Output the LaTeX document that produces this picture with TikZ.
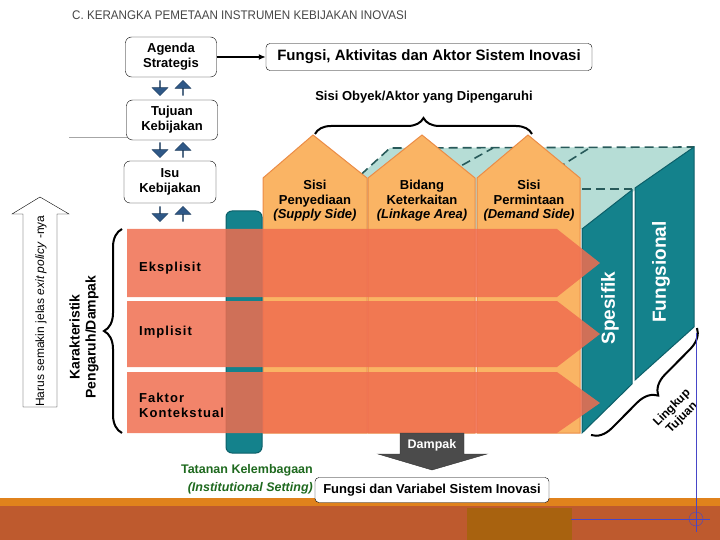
\documentclass[tikz,border=0pt]{standalone}
\usepackage{fontspec}
\setmainfont{Liberation Sans}
\newfontfamily\titlefont[FakeStretch=0.93]{Liberation Sans}
\newfontfamily\spacedfont[LetterSpace=8]{Liberation Sans}
\usetikzlibrary{positioning,shapes.arrows,decorations.pathreplacing,arrows.meta}

\definecolor{titlegray}{RGB}{70,70,70}
\definecolor{houseorange}{RGB}{250,180,100}
\definecolor{houseedge}{RGB}{235,140,70}
\definecolor{rowsalmon}{RGB}{240,110,80}
\definecolor{tealdark}{RGB}{20,130,140}
\definecolor{tealedge}{RGB}{12,95,105}
\definecolor{teallight}{RGB}{182,221,214}
\definecolor{hiddenteal}{RGB}{40,90,90}
\definecolor{arrowblue}{RGB}{47,88,135}
\definecolor{setgreen}{RGB}{30,105,30}
\definecolor{bandorange}{RGB}{224,130,28}
\definecolor{bandbrown}{RGB}{190,90,46}
\definecolor{bandpatch}{RGB}{168,98,15}
\definecolor{dampakgray}{RGB}{75,75,75}
\definecolor{crossblue}{RGB}{70,70,200}

\begin{document}
\begin{tikzpicture}[x=1pt,y=-1pt,
    every node/.style={inner sep=0pt},
    levelbox/.style={draw=black,fill=white,rounded corners=6pt,align=center,
      minimum width=91pt,minimum height=40pt,font=\bfseries\fontsize{13}{15}\selectfont},
    sysbox/.style={draw=black,fill=white,rounded corners=4pt,
      font=\bfseries\fontsize{13}{15}\selectfont},
    bluearr/.style={single arrow,fill=arrowblue,draw=arrowblue!70!black,
      minimum height=15pt,minimum width=16pt,single arrow head extend=4pt},
    house/.style={fill=houseorange,draw=houseedge,line width=1pt},
    housetext/.style={align=center,font=\bfseries\fontsize{13}{14.5}\selectfont},
    panel/.style={fill=tealdark,draw=tealedge,line width=1pt},
    hidden/.style={draw=hiddenteal,line width=1.6pt,dash pattern=on 9pt off 5pt},
    rowbar/.style={fill=rowsalmon,fill opacity=0.85},
    rowtext/.style={anchor=west,align=left,font=\spacedfont\bfseries\fontsize{13}{15}\selectfont},
    bracestyle/.style={decorate,line width=2pt},
    sidetext/.style={text=white,rotate=90,font=\bfseries\fontsize{19}{21}\selectfont}]

  \useasboundingbox (0,0) rectangle (720,540);

  % bottom band
  \fill[bandbrown] (0,505) rectangle (720,540);
  \fill[bandorange] (0,498) rectangle (720,506);
  \fill[bandpatch] (467,508) rectangle (572,540);

  \node[anchor=west,text=titlegray,font=\titlefont\fontsize{12.5}{14}\selectfont] (title) at (72,15)
    {C. KERANGKA PEMETAAN INSTRUMEN KEBIJAKAN INOVASI};

  % policy levels
  \node[levelbox] (agenda) at (171,57) {Agenda\\Strategis};
  \node[levelbox] (tujuan) at (172,120) {Tujuan\\Kebijakan};
  \node[levelbox,minimum width=92pt,minimum height=42pt] (isu) at (170,182) {Isu\\Kebijakan};
  \node[sysbox,minimum width=326pt,minimum height=27pt,font=\bfseries\fontsize{15}{17}\selectfont] (fungsi) at (429,57)
    {Fungsi, Aktivitas dan Aktor Sistem Inovasi};
  \draw[-{Latex[length=7pt,width=6pt]},line width=1.4pt] (agenda) -- (fungsi);
  \draw[gray!70] (69,137) -- (127,137);

  \node[bluearr,shape border rotate=270] (down1) at (160,88) {};
  \node[bluearr,shape border rotate=90] (up1) at (183,88) {};
  \node[bluearr,shape border rotate=270] (down2) at (160,150) {};
  \node[bluearr,shape border rotate=90] (up2) at (183,150) {};
  \node[bluearr,shape border rotate=270] (down3) at (160,214) {};
  \node[bluearr,shape border rotate=90] (up3) at (183,214) {};

  % top face of the box
  \fill[teallight] (345,190) -- (390,148) -- (694,147) -- (582,229) -- (345,229) -- cycle;
  \draw[hidden] (330,203) -- (390,148) -- (694,147);
  \draw[hidden] (450,172) -- (493,148);
  \draw[hidden] (545,176) -- (588,149);
  \draw[hidden] (582,189) -- (632,189);

  % the three sides
  \draw[house] (263,433) -- (263,178) -- (313,135) -- (367,178) -- (367,433) -- cycle;
  \draw[house] (368,433) -- (368,178) -- (422,135) -- (475,178) -- (475,433) -- cycle;
  \draw[house] (477,433) -- (477,178) -- (528,135) -- (580,178) -- (580,433) -- cycle;
  \node[housetext] (supply) at (315,201) {Sisi\\Penyediaan\\\textit{(Supply Side)}};
  \node[housetext] (linkage) at (422,201) {Bidang\\Keterkaitan\\\textit{(Linkage Area)}};
  \node[housetext] (demand) at (529,201) {Sisi\\Permintaan\\\textit{(Demand Side)}};

  \draw[panel] (582,229) -- (632,190) -- (632,384) -- (582,433) -- cycle;
  \draw[panel] (635,188) -- (694,147) -- (694,327) -- (635,380) -- cycle;
  \node[sidetext] (spesifik) at (610,308) {Spesifik};
  \node[sidetext] (fungsional) at (661,272) {Fungsional};

  \draw[panel,rounded corners=6pt] (226,211) rectangle (262,453);

  % rows
  \fill[rowbar] (127,229) -- (557,229) -- (600,263) -- (557,297) -- (127,297) -- cycle;
  \fill[rowbar] (127,301) -- (557,301) -- (600,334) -- (557,367) -- (127,367) -- cycle;
  \fill[rowbar] (127,372) -- (557,372) -- (600,403) -- (557,433) -- (127,433) -- cycle;
  \node[rowtext] (eksplisit) at (139,268) {Eksplisit};
  \node[rowtext] (implisit) at (139,332) {Implisit};
  \node[rowtext] (faktor) at (139,405) {Faktor\\Kontekstual};

  % braces
  \draw[bracestyle,decoration={brace,amplitude=16pt}] (315,134) -- (532,134);
  \node[font=\bfseries\fontsize{13}{15}\selectfont] (obyek) at (424,97) {Sisi Obyek/Aktor yang Dipengaruhi};
  \draw[bracestyle,decoration={brace,amplitude=18pt}] (122,433) -- (122,229);
  \node[rotate=90,align=center,font=\bfseries\fontsize{14}{16}\selectfont] (karakter) at (84,337)
    {Karakteristik\\Pengaruh/Dampak};
  \draw[bracestyle,decoration={brace,amplitude=20pt}] (697,328) -- (591,435);
  \node[rotate=45,align=center,font=\bfseries\fontsize{12}{14}\selectfont] (lingkup) at (677,413)
    {Lingkup\\Tujuan};

  % exit policy arrow
  \draw[fill=white] (23,407) -- (23,214) -- (12,214) -- (40,197) -- (69,214) -- (57,214) -- (57,407) -- cycle;
  \node[rotate=90,font=\fontsize{12}{14}\selectfont] (harus) at (41,311)
    {Harus semakin jelas \textit{exit policy} -nya};

  % impact
  \draw[fill=dampakgray,draw=black!80] (400,433) -- (464,433) -- (464,454) -- (487,454) -- (432,470)
    -- (378,454) -- (400,454) -- cycle;
  \node[text=white,font=\bfseries\fontsize{12.5}{14}\selectfont] (dampak) at (432,445) {Dampak};
  \node[anchor=east,align=right,text=setgreen,font=\bfseries\fontsize{12.5}{18}\selectfont] (tatanan) at (313,479)
    {Tatanan Kelembagaan\\\textit{(Institutional Setting)}};
  \node[sysbox,minimum width=234pt,minimum height=25pt] (variabel) at (432,490)
    {Fungsi dan Variabel Sistem Inovasi};

  % guide marks
  \draw[crossblue] (696,333) -- (696,532);
  \draw[crossblue] (571,519) -- (710,519);
  \draw[crossblue] (696,519) circle (7);
\end{tikzpicture}
\end{document}
